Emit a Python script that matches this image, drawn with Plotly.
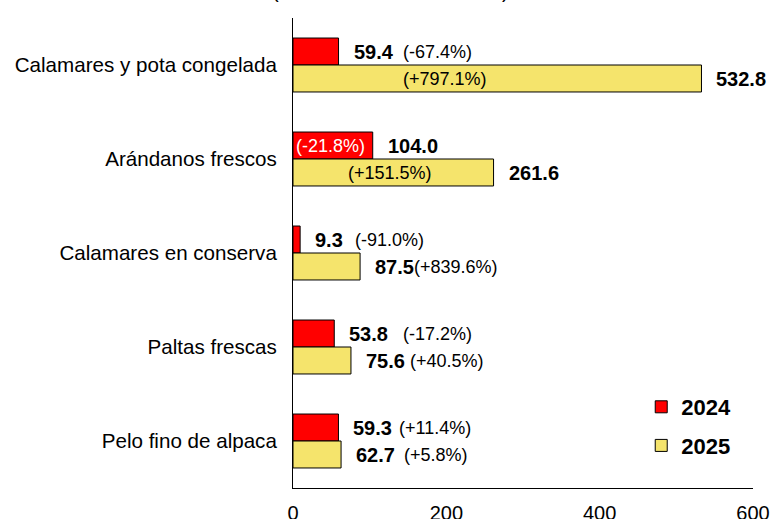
import plotly.graph_objects as go

categories = ["Calamares y pota congelada", "Arándanos frescos", "Calamares en conserva",
              "Paltas frescas", "Pelo fino de alpaca"]
values_2024 = [59.4, 104.0, 9.3, 53.8, 59.3]
values_2025 = [532.8, 261.6, 87.5, 75.6, 62.7]
var_2024 = ["-67.4%", "-21.8%", "-91.0%", "-17.2%", "+11.4%"]
var_2025 = ["+797.1%", "+151.5%", "+839.6%", "+40.5%", "+5.8%"]
x_ticks = [0, 200, 400, 600]
title_text = "(Millones de US$ – var. %)"

# label placement (pixel offsets), kept apart from the data
val_shift = 13
pct_pos_2024 = [("after", 62), ("mid", -2), ("after", 53), ("after", 67), ("after", 59)]
pct_pos_2025 = [("abs", 152), ("mid", -3), ("after", 52), ("after", 57), ("after", 61)]

FONT = "Arial, 'Liberation Sans', sans-serif"
RED = "#FF0000"
YELLOW = "#F5E46C"

fig = go.Figure()
fig.add_trace(go.Bar(y=categories, x=values_2024, orientation="h", name="2024",
                     marker=dict(color=RED, line=dict(color="black", width=1)),
                     legendgroup="a"))
fig.add_trace(go.Bar(y=categories, x=values_2025, orientation="h", name="2025",
                     marker=dict(color=YELLOW, line=dict(color="black", width=1)),
                     legendgroup="b"))

ann = []
def add_labels(vals, pcts, pos, yshift, pct_color_inside):
    for i, cat in enumerate(categories):
        v = vals[i]
        ann.append(dict(x=v, y=cat, xref="x", yref="y", text=f"<b>{v:.1f}</b>",
                        xanchor="left", yanchor="middle", xshift=val_shift, yshift=yshift,
                        showarrow=False, font=dict(family=FONT, size=20, color="black")))
        mode, px = pos[i]
        txt = f"({pcts[i]})"
        if mode == "after":
            ann.append(dict(x=v, y=cat, xref="x", yref="y", text=txt, xanchor="left",
                            yanchor="middle", xshift=px, yshift=yshift, showarrow=False,
                            font=dict(family=FONT, size=18, color="black")))
        elif mode == "mid":
            ann.append(dict(x=v / 2, y=cat, xref="x", yref="y", text=txt, xanchor="center",
                            yanchor="middle", xshift=px, yshift=yshift, showarrow=False,
                            font=dict(family=FONT, size=18, color=pct_color_inside)))
        else:
            ann.append(dict(x=0, y=cat, xref="x", yref="y", text=txt, xanchor="center",
                            yanchor="middle", xshift=px, yshift=yshift, showarrow=False,
                            font=dict(family=FONT, size=18, color="black")))

add_labels(values_2024, var_2024, pct_pos_2024, 13.5, "white")
add_labels(values_2025, var_2025, pct_pos_2025, -13.5, "black")

ann.append(dict(x=0.211, y=1.0585, xref="paper", yref="paper", text=title_text,
                xanchor="center", yanchor="middle", showarrow=False,
                font=dict(family=FONT, size=20, color="black")))

fig.update_layout(
    width=771, height=519, autosize=False,
    margin=dict(l=293, r=18, t=18, b=31, pad=0),
    paper_bgcolor="white", plot_bgcolor="white",
    barmode="group", bargap=0.426, bargroupgap=0,
    font=dict(family=FONT, size=20, color="black"),
    annotations=ann,
    showlegend=True,
    legend=dict(x=0.757, y=0.217, xanchor="left", yanchor="top",
                font=dict(family=FONT, size=22, color="black", weight="bold"),
                traceorder="grouped", tracegroupgap=7, bgcolor="rgba(0,0,0,0)"),
    xaxis=dict(range=[0, 600], tickvals=x_ticks, showgrid=False, zeroline=False,
               showline=True, linecolor="black", linewidth=1, ticks="", automargin=False,
               tickfont=dict(family=FONT, size=20, color="black"), ticklabelstandoff=7),
    yaxis=dict(autorange="reversed", showgrid=False, zeroline=False, showline=True,
               linecolor="black", linewidth=1, ticks="", automargin=False,
               tickfont=dict(family=FONT, size=20.6, color="black"), ticklabelstandoff=11),
)

fig.write_html("out.html", config={"displayModeBar": False},
               post_script="document.body.style.margin='0';")
